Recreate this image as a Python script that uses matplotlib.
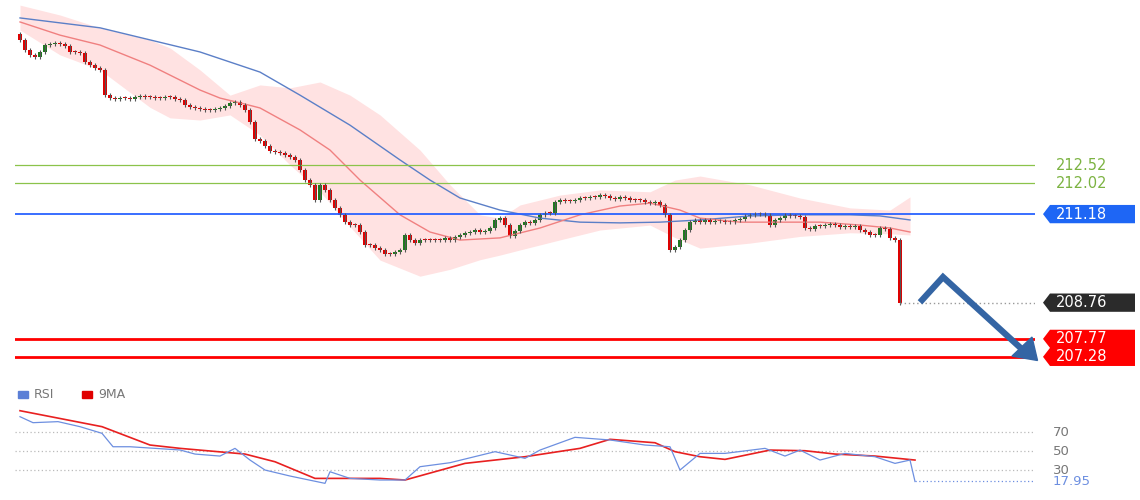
import numpy as np
import matplotlib
matplotlib.use("Agg")
import matplotlib.pyplot as plt
from matplotlib.patches import Polygon

closes = [215.94,215.66,215.53,215.47,215.61,215.80,215.83,215.86,215.83,215.77,215.61,215.61,215.58,215.34,215.25,215.17,215.12,214.43,214.35,214.33,
214.35,214.35,214.33,214.38,214.41,214.38,214.38,214.35,214.35,214.38,214.38,214.33,214.30,214.16,214.11,214.08,214.05,214.02,214.02,214.05,
214.08,214.13,214.22,214.24,214.16,214.02,213.70,213.23,213.18,213.04,212.90,212.88,212.85,212.80,212.74,212.66,212.39,212.11,211.98,211.57,
211.98,211.84,211.57,211.35,211.16,210.96,210.88,210.88,210.69,210.34,210.34,210.25,210.20,210.09,210.09,210.15,210.20,210.61,210.47,210.39,
210.47,210.47,210.47,210.47,210.47,210.53,210.47,210.56,210.61,210.66,210.69,210.75,210.69,210.72,210.80,211.02,211.07,210.88,210.58,210.72,
210.88,210.96,210.94,211.02,211.16,211.21,211.21,211.51,211.57,211.54,211.54,211.57,211.62,211.62,211.65,211.65,211.70,211.68,211.62,211.59,
211.65,211.62,211.57,211.57,211.57,211.51,211.48,211.51,211.43,211.16,210.20,210.28,210.47,210.75,210.96,211.02,210.96,211.02,210.96,210.99,
210.99,210.96,210.96,211.02,211.05,211.13,211.16,211.18,211.18,211.16,210.88,211.02,211.07,211.16,211.13,211.13,211.10,210.80,210.78,210.86,
210.86,210.88,210.91,210.88,210.83,210.86,210.83,210.86,210.75,210.69,210.61,210.61,210.80,210.78,210.53,210.47,208.76]
first_open = 216.10

blue_ma_i = [0,16,36,48,56,66,76,82,88,96,104,112,120,128,136,146,156,166,172,178]
blue_ma = [216.54,216.27,215.61,215.06,214.43,213.61,212.66,212.11,211.62,211.29,211.07,210.96,210.94,210.96,211.02,211.13,211.16,211.16,211.13,211.02]
red_ma_i = [0,8,16,26,36,40,44,48,56,62,68,76,82,88,96,104,112,120,126,132,136,144,152,160,168,174,178]
red_ma = [216.43,216.07,215.80,215.25,214.57,214.35,214.22,214.08,213.48,212.93,212.11,211.16,210.69,210.47,210.53,210.80,211.16,211.40,211.48,211.29,211.07,210.96,210.96,210.96,210.88,210.80,210.69]
up_i = [0,8,16,26,30,36,42,48,54,60,66,72,80,86,92,96,100,108,116,126,131,136,146,156,166,174,178]
up_v = [216.89,216.62,216.27,215.94,215.72,215.12,214.43,214.71,214.63,214.79,214.43,213.89,212.93,211.98,211.16,211.07,211.43,211.70,211.84,211.79,212.11,212.22,211.98,211.62,211.35,211.29,211.65]
lo_i = [0,8,16,24,30,36,42,48,56,62,68,74,78,84,90,96,104,112,120,126,132,136,144,152,160,168,178]
lo_v = [216.21,215.53,215.12,214.24,213.81,213.75,213.89,213.34,212.25,211.57,210.47,209.65,209.44,209.57,209.87,210.06,210.34,210.61,210.88,210.88,210.47,210.25,210.34,210.53,210.61,210.69,210.61]

rsi_i = [0,2.6,7.6,12,16.4,18.6,22,32,35,40,43,46,49,54,61,62,66,72,77,80,86,95,101,104,111,118,125,130,132,136,141,149,153,156,160,165,171,175,178,179]
rsi_v = [86.1,79.8,80.9,75.6,68.6,54.5,54.5,51.1,46.8,44.7,52.8,40.5,30,23.7,16,28.2,21.2,19.5,19.5,33.5,37.7,49.3,42.3,51,64.4,61.6,56.3,54.5,30,47.5,47.5,52.8,44.7,51,40.5,47.5,44,37,40.5,17.95]
ma9_i = [0,16.4,26,32,45,51,59,72,77,89,101,112,118,127,131,136,141,150,157,163,171,179]
ma9_v = [92.4,75.6,56.3,52.8,46.8,38.7,21.2,21.2,19.5,37,44,52.8,62.3,58.7,49.3,44,41.2,51,50.3,46.8,44.7,40.5]

levels_green = [212.52, 212.02]
level_blue = 211.18
levels_red = [207.77, 207.28]
last_price = 208.76
arrow_i = [180, 184.6, 200.3]
arrow_p = [208.77, 209.46, 207.50]
arrow_head = [(198.4, 207.30), (202.4, 207.82), (203.5, 207.18)]

fig = plt.figure(figsize=(11.4, 5), dpi=100)
ax = fig.add_axes([15/1140, 0.26, 1020/1140, 0.74])
ax2 = fig.add_axes([15/1140, 0.02, 1020/1140, 0.17])
for a in (ax, ax2):
    a.set_axis_off()
    a.set_xlim(-1, 203)
ax.set_ylim(206.92, 217.03)
ax2.set_ylim(9, 98.4)

ax.fill_between(up_i, up_v, np.interp(up_i, lo_i, lo_v), color='#ffd6d6', alpha=0.7, lw=0)
ax.plot(blue_ma_i, blue_ma, color='#5b7fc7', lw=1)
ax.plot(red_ma_i, red_ma, color='#f08080', lw=1)

for v in levels_green:
    ax.axhline(v, color='#8bc34a', lw=0.9)
ax.axhline(level_blue, color='#2962ff', lw=1.3)
for v in levels_red:
    ax.axhline(v, color='#ff0000', lw=2)

opens = [first_open] + closes[:-1]
for i, (o, c) in enumerate(zip(opens, closes)):
    col = '#1f7a1f' if c > o else '#e00000'
    hi, lo = max(o, c) + 0.06, min(o, c) - 0.06
    ax.vlines(i, lo, hi, color='#555555', lw=0.8)
    h = max(abs(c - o), 0.03)
    ax.add_patch(plt.Rectangle((i - 0.38, min(o, c)), 0.76, h, color=col, lw=0))

ax.plot([len(closes) - 1, 203], [last_price, last_price], color='#999999', ls=(0, (1, 2)), lw=1)
ax.plot(arrow_i, arrow_p, color='#3465a4', lw=4.5, solid_capstyle='butt', solid_joinstyle='miter')
ax.add_patch(Polygon(arrow_head, closed=True, color='#3465a4', clip_on=False, zorder=5))

H = 0.25
def tag(y1, y2, fc):
    if y1 == y2:
        pts = [(204.6, y1), (206.0, y1 - H), (223.0, y1 - H), (223.0, y2 + H), (206.0, y2 + H)]
    else:
        pts = [(204.6, y1), (206.0, y1 - H), (223.0, y1 - H), (223.0, y2 + H), (206.0, y2 + H), (204.6, y2), (206.0, (y1 + y2) / 2)]
    ax.add_patch(Polygon(pts, closed=True, fc=fc, ec='none', clip_on=False))

tag(level_blue, level_blue, '#1e66f5')
tag(last_price, last_price, '#2b2b2b')
tag(levels_red[1], levels_red[0], '#ff0000')
for v in (level_blue, last_price, levels_red[0], levels_red[1]):
    ax.text(207.2, v, f'{v:.2f}', color='white', fontsize=10.5, va='center', ha='left', clip_on=False)
for v in levels_green:
    ax.text(207.2, v, f'{v:.2f}', color='#7cb342', fontsize=10.5, va='center', ha='left', clip_on=False)

for v in (70, 50, 30):
    ax2.axhline(v, color='#bbbbbb', ls=(0, (1, 2)), lw=0.9)
    ax2.text(206.5, v, str(v), color='#777777', fontsize=9.5, va='center', ha='left', clip_on=False)
ax2.plot(ma9_i, ma9_v, color='#e82020', lw=1.2)
ax2.plot(rsi_i, rsi_v, color='#6d8fe0', lw=0.9)
ax2.plot([179, 203], [rsi_v[-1], rsi_v[-1]], color='#6d8fe0', ls=(0, (1, 2)), lw=0.9)
ax2.text(206.5, rsi_v[-1], f'{rsi_v[-1]:.2f}', color='#6d8fe0', fontsize=9.5, va='center', ha='left', clip_on=False)

fig.patches.append(plt.Rectangle((18/1140, 1 - 398/500), 10/1140, 7/500, color='#5b7fd6', transform=fig.transFigure))
fig.text(34/1140, 1 - 394/500, 'RSI', color='#777777', fontsize=9, va='center')
fig.patches.append(plt.Rectangle((82/1140, 1 - 398/500), 10/1140, 7/500, color='#e00000', transform=fig.transFigure))
fig.text(98/1140, 1 - 394/500, '9MA', color='#777777', fontsize=9, va='center')

fig.savefig('out.png', dpi=100, facecolor='white')
